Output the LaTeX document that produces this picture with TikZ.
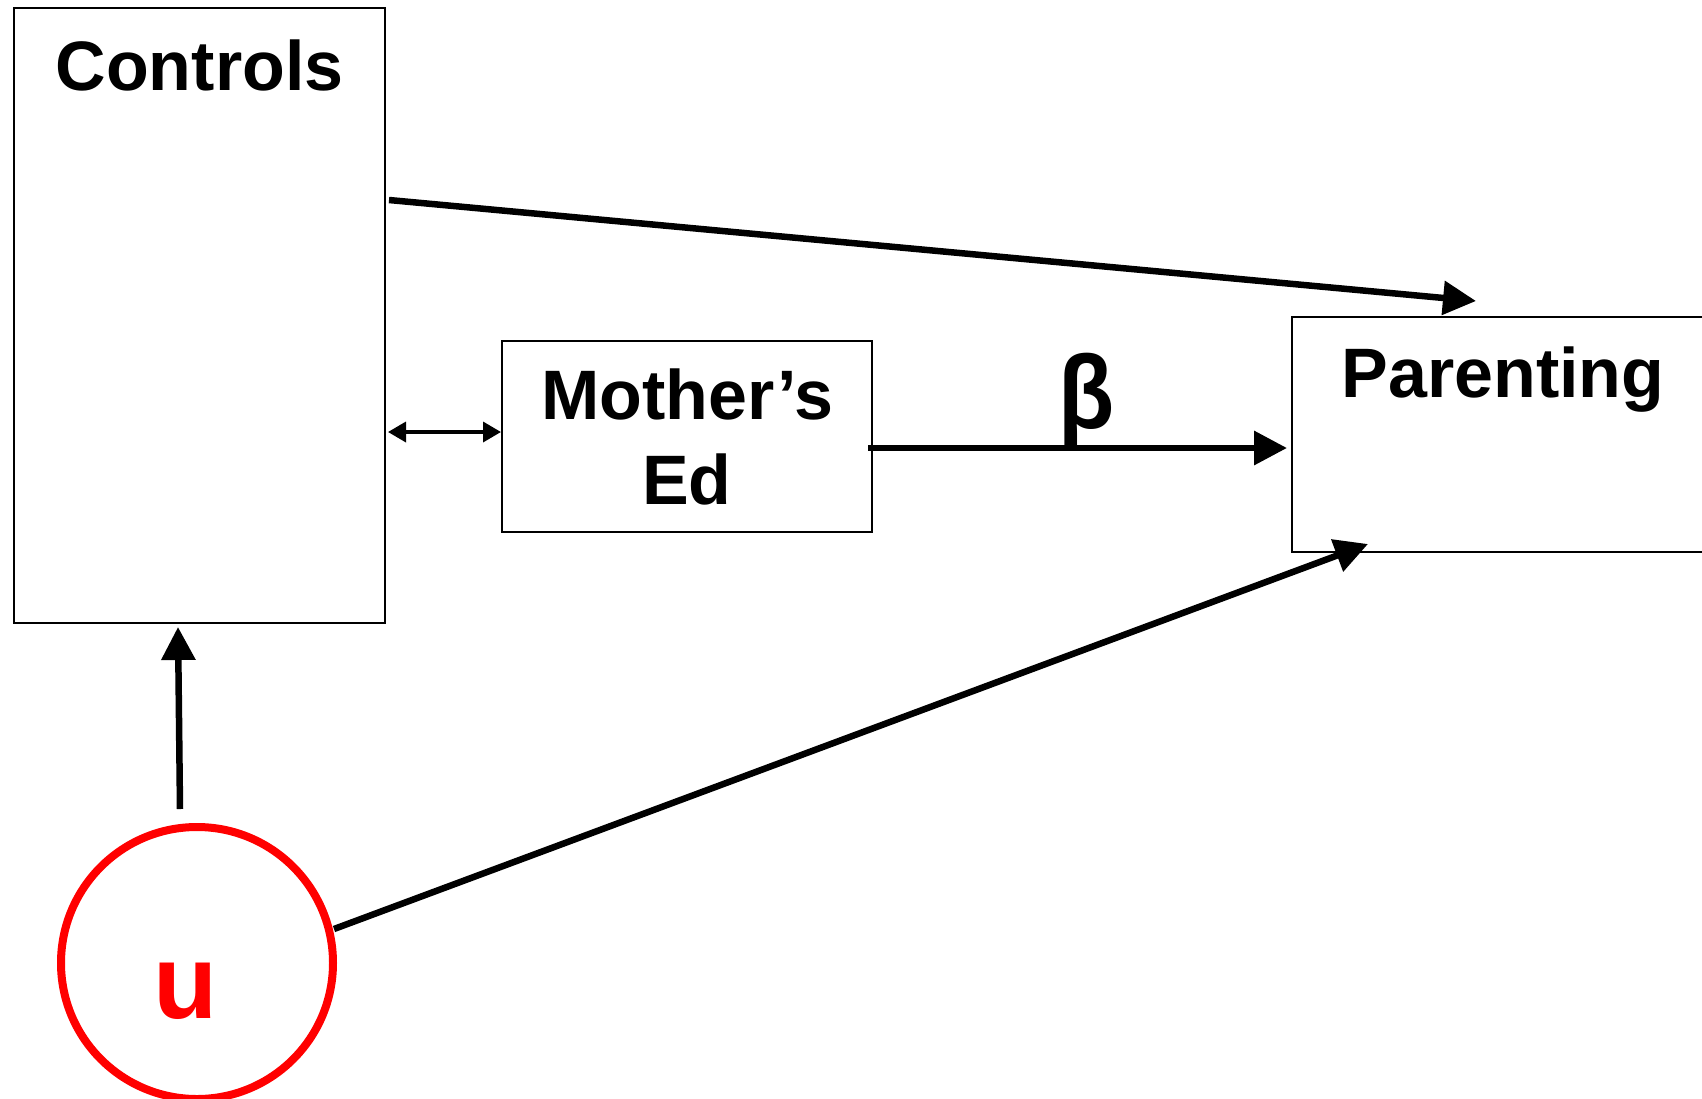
\documentclass[tikz,border=0pt]{standalone}
\usepackage{fontspec}
\setmainfont{Liberation Sans}
\usetikzlibrary{arrows.meta}
\begin{document}
\begin{tikzpicture}[x=1pt,y=-1pt,
  box/.style={draw=black, line width=2pt, inner sep=0pt, outer sep=0pt},
  lbl/.style={font=\fontsize{70}{85}\selectfont\bfseries, inner sep=0pt},
  arr/.style={line width=6.5pt, -{Triangle[length=33pt,width=33pt]}},
  darr/.style={line width=3.5pt, {Triangle[length=18pt,width=20pt]}-{Triangle[length=18pt,width=20pt]}},
]
\useasboundingbox (0,0) rectangle (1702,1098);
\clip (0,0) rectangle (1702,1098);
% boxes
\node[box, minimum width=371pt, minimum height=615pt] (ctrl) at (199.5,315.5) {};
\node[lbl, anchor=base] (ctrltxt) at (199.5,90) {Controls};
\node[box, lbl, minimum width=370pt, minimum height=191pt, align=center] (mom) at (687,436.5) {Mother’s\\Ed};
\node[box, minimum width=448pt, minimum height=235pt] (par) at (1516,434.5) {};
\node[lbl, anchor=base] (partxt) at (1503,397) {Parenting};
\node[draw=red, line width=8pt, circle, minimum size=272pt, inner sep=0pt] (u) at (197,963) {};
\node[font=\fontsize{105}{105}\selectfont\bfseries, text=red, inner sep=0pt, anchor=base] (utxt) at (186,1018) {u};
% connector end points
\coordinate (c1) at (389,200);
\coordinate (c2) at (1476,301);
\coordinate (m1) at (868,448);
\coordinate (m2) at (1287,448);
\coordinate (d1) at (388,432);
\coordinate (d2) at (501,432);
\coordinate (u1) at (180,809);
\coordinate (u2) at (178,627);
\coordinate (u3) at (334,929);
\coordinate (u4) at (1368,544);
% connectors
\draw[arr] (c1) -- (c2);
\draw[arr] (m1) -- (m2);
\draw[darr] (d1) -- (d2);
\draw[arr] (u1) -- (u2);
\draw[arr] (u3) -- (u4);
\node[font=\fontsize{100}{100}\selectfont\bfseries, inner sep=0pt, anchor=base, xscale=0.92, yscale=1.04] (beta) at (1087,428) {β};
\end{tikzpicture}
\end{document}
